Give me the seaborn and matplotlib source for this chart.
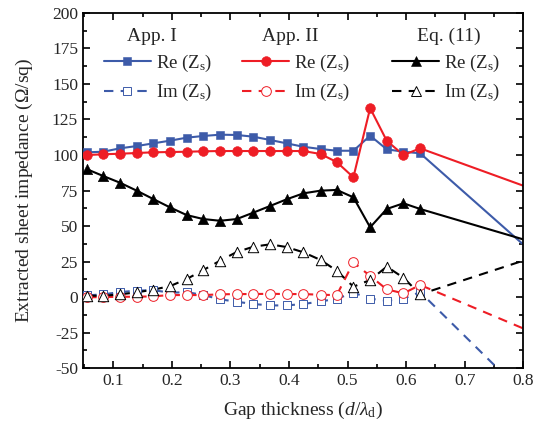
import numpy as np
import pandas as pd
import matplotlib
matplotlib.use("Agg")
import matplotlib.pyplot as plt
import seaborn as sns
from matplotlib.lines import Line2D
from matplotlib.ticker import MultipleLocator

# ---- data ----
x_pts = [0.0556, 0.0829, 0.1114, 0.1400, 0.1683, 0.1970, 0.2254, 0.2538, 0.2823,
         0.3108, 0.3390, 0.3677, 0.3960, 0.4246, 0.4540, 0.4817, 0.5100, 0.5386,
         0.5670, 0.5955, 0.6240, 0.8000]

re_app1 = [101.9, 102.3, 104.7, 106.3, 108.2, 110.1, 112.2, 113.4, 114.3, 114.1,
           112.9, 110.6, 108.2, 105.8, 104.2, 103.0, 103.0, 113.6, 104.0, 102.3,
           101.2, 37.0]
im_app1 = [1.2, 1.9, 3.5, 4.5, 4.9, 3.0, 3.5, 1.4, -1.6, -3.3, -4.9, -5.9, -5.9,
           -4.9, -3.1, -1.2, 3.1, -1.2, -2.6, -1.2, 3.5, -68.0]

re_app2 = [100.0, 100.5, 100.9, 101.4, 101.9, 102.1, 102.3, 102.6, 102.8, 102.8,
           102.8, 102.8, 102.8, 102.8, 100.7, 95.0, 84.3, 133.0, 110.0, 100.0,
           104.7, 78.4]
im_app2 = [-0.2, 0.0, 0.2, 0.2, 0.5, 1.4, 1.4, 1.4, 1.9, 2.1, 2.1, 2.3, 2.1, 2.1,
           1.6, 1.4, 24.4, 14.8, 5.4, 2.6, 8.5, -22.1]

re_eq11 = [89.9, 85.2, 80.5, 74.9, 69.0, 63.1, 57.7, 54.9, 53.7, 54.9, 59.4, 64.1,
           68.8, 73.0, 74.9, 75.4, 70.2, 49.1, 62.0, 66.0, 62.0, 40.6]
im_eq11 = [0.9, 0.9, 1.9, 3.3, 5.2, 7.7, 12.7, 19.0, 25.6, 31.7, 35.4, 37.1, 35.2,
           31.5, 26.1, 18.5, 7.3, 12.0, 21.4, 13.6, 1.9, 25.6]

x_ticks = [0.1, 0.2, 0.3, 0.4, 0.5, 0.6, 0.7, 0.8]
y_ticks = [-50, -25, 0, 25, 50, 75, 100, 125, 150, 175, 200]
group_titles = ["App. I", "App. II", "Eq. (11)"]

# ---- style ----
sns.set_theme(style="ticks")
plt.rcParams["font.family"] = ["Liberation Serif", "DejaVu Serif"]
plt.rcParams["mathtext.fontset"] = "custom"
plt.rcParams["mathtext.rm"] = "Liberation Serif"
plt.rcParams["mathtext.it"] = "Liberation Serif:italic"
plt.rcParams["mathtext.bf"] = "Liberation Serif:bold"

BLUE = "#3D5BA9"
RED = "#EE1D25"
BLACK = "#000000"
DASH = (0, (4.5, 3.5))

fig = plt.figure(figsize=(5.35, 4.32), dpi=100)
ax = fig.add_axes([0.155, 0.148, 0.823, 0.822])

series = [
    (re_app1, BLUE, "s", True, 6.3),
    (re_app2, RED, "o", True, 7.0),
    (re_eq11, BLACK, "^", True, 7.5),
    (im_app1, BLUE, "s", False, 6.3),
    (im_app2, RED, "o", False, 7.0),
    (im_eq11, BLACK, "^", False, 7.5),
]

handles = {}
for vals, col, mk, solid, ms in series:
    df = pd.DataFrame({"x": x_pts, "y": vals})
    sns.lineplot(data=df, x="x", y="y", ax=ax, color=col, sort=False,
                 estimator=None, linewidth=1.5,
                 linestyle="-" if solid else DASH, zorder=2)
    mdf = pd.DataFrame({"x": x_pts[:-1], "y": vals[:-1]})
    sns.scatterplot(data=mdf, x="x", y="y", ax=ax, marker=mk,
                    s=ms ** 2,
                    color=col if solid else "white",
                    edgecolor=col, linewidth=0.4 if solid else 0.7,
                    zorder=3)
    handles[(col, solid)] = Line2D([], [], color=col, lw=1.5,
                                   linestyle="-" if solid else DASH,
                                   marker=mk, markersize=ms,
                                   markerfacecolor=col if solid else "white",
                                   markeredgecolor=col,
                                   markeredgewidth=0.4 if solid else 0.7)

ax.set_xlim(0.0482, 0.8)
ax.set_ylim(-50, 200)
ax.set_xticks(x_ticks)
ax.set_yticks(y_ticks)
ax.set_xticklabels([f"{t:.1f}" for t in x_ticks])
ax.set_yticklabels([str(t) for t in y_ticks])
ax.xaxis.set_minor_locator(MultipleLocator(0.05))
ax.yaxis.set_minor_locator(MultipleLocator(12.5))
ax.tick_params(which="both", direction="in", top=True, right=True,
               labelsize=12.5, color="black", width=1.2)
ax.tick_params(which="major", length=5)
ax.tick_params(which="minor", length=3)
for sp in ax.spines.values():
    sp.set_linewidth(1.3)
    sp.set_color("black")

ax.set_xlabel(r"Gap thickness ($d$/$\lambda_{\mathrm{d}}$)", fontsize=14, labelpad=8)
ax.set_ylabel(r"Extracted sheet impedance ($\Omega$/sq)", fontsize=14, labelpad=12)

labels = [r"Re ($\mathrm{Z}_{\mathrm{s}}$)", r"Im ($\mathrm{Z}_{\mathrm{s}}$)"]
cols = [BLUE, RED, BLACK]
anchors_x = [0.048, 0.362, 0.703]
legs = []
for col, axx in zip(cols, anchors_x):
    lg = ax.legend([handles[(col, True)], handles[(col, False)]], labels,
                   loc="upper left", bbox_to_anchor=(axx, 0.888),
                   frameon=False, fontsize=13.5, handlelength=2.5,
                   handletextpad=0.25, labelspacing=0.45,
                   borderaxespad=0.0, borderpad=0.0)
    legs.append(lg)
for lg in legs[:-1]:
    ax.add_artist(lg)

for tx, title in zip([0.157, 0.47, 0.83], group_titles):
    ax.text(tx, 0.935, title, transform=ax.transAxes, ha="center", va="center",
            fontsize=14)

fig.savefig("out.png", dpi=100)
